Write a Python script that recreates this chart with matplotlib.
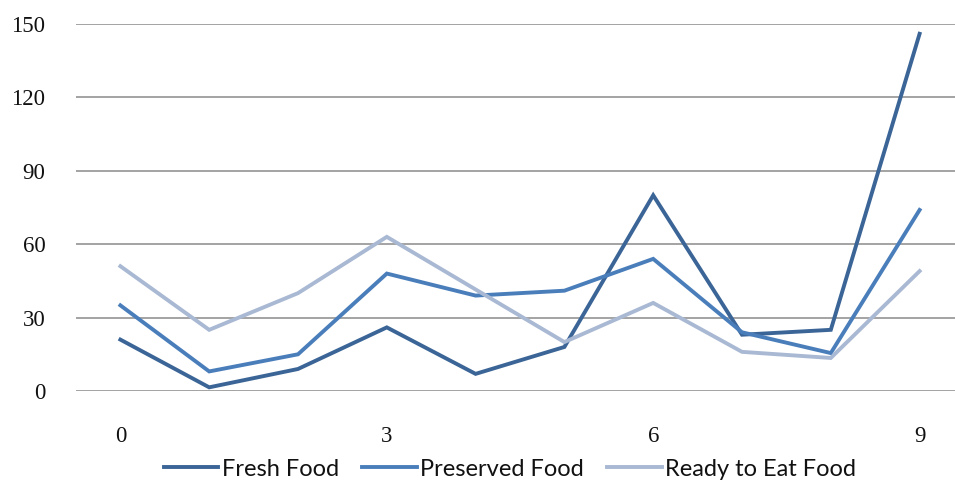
import matplotlib
matplotlib.use("Agg")
import matplotlib.pyplot as plt

# food category counts per period
periods = [0, 1, 2, 3, 4, 5, 6, 7, 8, 9]
fresh_food = [21, 1.5, 9, 26, 7, 18, 80, 23, 25, 146]
preserved_food = [35, 8, 15, 48, 39, 41, 54, 24, 15.5, 74]
ready_to_eat = [51, 25, 40, 63, 41.5, 20, 36, 16, 13.5, 49]

series_names = ["Fresh Food", "Preserved Food", "Ready to Eat Food"]
colors = ["#3b6597", "#4a7ebb", "#a9b9d3"]
y_ticks = [0, 30, 60, 90, 120, 150]
x_ticks = [0, 3, 6, 9]

fig = plt.figure(figsize=(9.55, 4.87), dpi=100)
ax = fig.add_axes([76 / 955, 1 - 391 / 487, 888 / 955, 367 / 487])

for values, name, col in zip([fresh_food, preserved_food, ready_to_eat], series_names, colors):
    ax.plot(periods, values, color=col, lw=2.8, label=name, solid_joinstyle="miter")

ax.set_xlim(-0.5, 9.5)
ax.set_ylim(0, 150)
ax.set_yticks(y_ticks)
ax.set_xticks(x_ticks)
ax.yaxis.grid(True, color="#8a8a8a", lw=1.1)
ax.set_axisbelow(True)
for s in ax.spines.values():
    s.set_visible(False)
ax.tick_params(length=0, labelsize=16.5, colors="#111111")
ax.tick_params(axis="y", pad=22)
ax.tick_params(axis="x", pad=25)
for lab in ax.get_xticklabels() + ax.get_yticklabels():
    lab.set_family("Liberation Serif")

leg = fig.legend(loc="center", bbox_to_anchor=(510 / 955, 1 - 469 / 487), ncol=3,
                 frameon=False, prop={"family": "Lato", "size": 17},
                 handlelength=2.3, handletextpad=0.15, columnspacing=1.0)
for t in leg.get_texts():
    t.set_color("#111111")

fig.savefig("out.png", dpi=100)
